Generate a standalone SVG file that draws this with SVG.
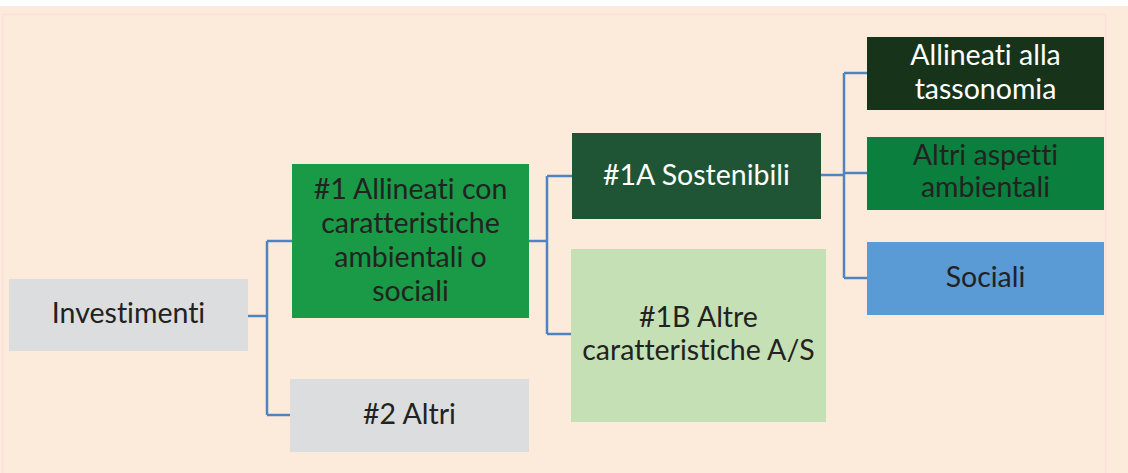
<svg xmlns="http://www.w3.org/2000/svg" width="1128" height="473" viewBox="0 0 1128 473">
<style>
.t{font-family:Lato,"Open Sans","Liberation Sans",sans-serif;font-size:28.5px;text-anchor:middle;fill:#222222;font-variant-ligatures:none;font-feature-settings:"liga" 0,"clig" 0}
.w{fill:#ffffff}
.c{fill:none;stroke:#4f84c0;stroke-width:2.5}
</style>
<rect x="0" y="0" width="1128" height="473" fill="#ffffff"/>
<rect x="0" y="6" width="1128" height="467" fill="#fcebdb"/>
<rect x="2.5" y="14.5" width="1103" height="470" fill="none" stroke="#f8e0dc" stroke-width="1.5"/>
<g id="connectors">
<path class="c" d="M248 316 H267 M267 241 V415 M267 241 H292 M267 415 H290"/>
<path class="c" d="M529 241 H547 M547 176 V334 M547 176 H572 M547 334 H571"/>
<path class="c" d="M821 175 H844 M844 73 V278 M844 73 H867 M844 173 H867 M844 278 H867"/>
</g>
<g id="investimenti">
<rect x="9" y="279" width="239" height="72" fill="#dcdddf"/>
<text class="t" x="128.5" y="323">Investimenti</text>
</g>
<g id="n1">
<rect x="292" y="164" width="237" height="154" fill="#1a9946"/>
<text class="t" x="410.5" y="199">#1 Allineati con</text>
<text class="t" x="410.5" y="233">caratteristiche</text>
<text class="t" x="410.5" y="267">ambientali o</text>
<text class="t" x="410.5" y="301">sociali</text>
</g>
<g id="n2">
<rect x="290" y="379" width="239" height="73" fill="#dcdddf"/>
<text class="t" x="409.5" y="424">#2 Altri</text>
</g>
<g id="n1a">
<rect x="572" y="133" width="249" height="86" fill="#1f5535"/>
<text class="t w" x="696.5" y="185">#1A Sostenibili</text>
</g>
<g id="n1b">
<rect x="571" y="249" width="255" height="173" fill="#c5e0b4"/>
<text class="t" x="698.5" y="327">#1B Altre</text>
<text class="t" x="698.5" y="360">caratteristiche A/S</text>
</g>
<g id="tassonomia">
<rect x="867" y="37" width="237" height="73" fill="#17341b"/>
<text class="t w" x="985.5" y="65">Allineati alla</text>
<text class="t w" x="985.5" y="99">tassonomia</text>
</g>
<g id="ambientali">
<rect x="867" y="137" width="237" height="73" fill="#0b7f3d"/>
<text class="t" x="985.5" y="165">Altri aspetti</text>
<text class="t" x="985.5" y="197">ambientali</text>
</g>
<g id="sociali">
<rect x="867" y="242" width="237" height="73" fill="#5b9bd5"/>
<text class="t" x="985.5" y="287">Sociali</text>
</g>
</svg>
